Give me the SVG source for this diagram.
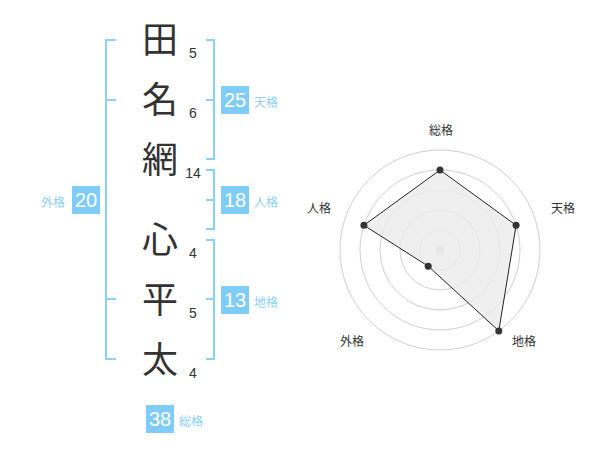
<svg xmlns="http://www.w3.org/2000/svg" width="600" height="470" viewBox="0 0 600 470">
<style>
.kanji{font-family:"Noto Sans CJK JP","Noto Sans CJK SC",sans-serif;font-size:36px;fill:#333;text-anchor:middle}
.stroke{font-family:"Liberation Sans",Arial,sans-serif;font-size:14px;fill:#333;text-anchor:middle}
.br{fill:none;stroke:#8ccff7;stroke-width:2}
.box{fill:#80ccf8}
.num{font-family:"Liberation Sans",Arial,sans-serif;font-size:20px;fill:#fff;text-anchor:middle}
.lbl{font-family:"Noto Sans CJK JP","Noto Sans CJK SC",sans-serif;font-size:12px;fill:#8ccff7}
.rl{font-family:"Noto Sans CJK JP","Noto Sans CJK SC",sans-serif;font-size:12px;fill:#333;text-anchor:middle}
.ring{fill:none;stroke:#d0d0d0;stroke-width:1}
.dot{fill:#333}
</style>
<rect width="600" height="470" fill="#fff"/>
<g id="name">
<text class="kanji" x="160" y="53">田</text>
<text class="kanji" x="160" y="113">名</text>
<text class="kanji" x="160" y="173">網</text>
<text class="kanji" x="160" y="253">心</text>
<text class="kanji" x="160" y="313">平</text>
<text class="kanji" x="160" y="373">太</text>
</g>
<g id="strokes">
<text class="stroke" x="193" y="58">5</text>
<text class="stroke" x="193" y="118">6</text>
<text class="stroke" x="193" y="178">14</text>
<text class="stroke" x="193" y="258">4</text>
<text class="stroke" x="193" y="318">5</text>
<text class="stroke" x="193" y="378">4</text>
</g>
<g id="connectors">
<path class="br" d="M116,40 H106 V359 H116 M106,100 H116 M106,299 H116"/>
<path class="br" d="M206,40 H214 V159 H206 M214,100 H206"/>
<path class="br" d="M206,170 H214 V229 H206 M214,200 H206"/>
<path class="br" d="M206,240 H214 V359 H206 M214,299 H206"/>
</g>
<g id="tenkaku">
<rect class="box" x="221" y="86" width="28" height="28"/>
<text class="num" x="235" y="107">25</text>
<text class="lbl" x="254" y="107">天格</text>
</g>
<g id="jinkaku">
<rect class="box" x="221" y="186" width="28" height="28"/>
<text class="num" x="235" y="207">18</text>
<text class="lbl" x="254" y="207">人格</text>
</g>
<g id="chikaku">
<rect class="box" x="221" y="286" width="28" height="28"/>
<text class="num" x="235" y="307">13</text>
<text class="lbl" x="254" y="307">地格</text>
</g>
<g id="gaikaku">
<rect class="box" x="72" y="186" width="28" height="28"/>
<text class="num" x="86" y="207">20</text>
<text class="lbl" x="41" y="207">外格</text>
</g>
<g id="soukaku">
<rect class="box" x="146" y="405" width="28" height="28"/>
<text class="num" x="160" y="426">38</text>
<text class="lbl" x="179" y="426">総格</text>
</g>
<g id="radar">
<circle class="ring" cx="440" cy="250" r="20"/>
<circle class="ring" cx="440" cy="250" r="40"/>
<circle class="ring" cx="440" cy="250" r="60"/>
<circle class="ring" cx="440" cy="250" r="80"/>
<circle class="ring" cx="440" cy="250" r="100"/>
<circle cx="440" cy="250" r="4" fill="#ccc"/>
<polygon points="440,170 516.1,225.3 498.8,330.9 428.2,266.2 363.9,225.3" fill="#ebebeb" fill-opacity="0.8" stroke="#222" stroke-width="1"/>
<circle class="dot" cx="440" cy="170" r="3.5"/>
<circle class="dot" cx="516.1" cy="225.3" r="3.5"/>
<circle class="dot" cx="498.8" cy="330.9" r="3.5"/>
<circle class="dot" cx="428.2" cy="266.2" r="3.5"/>
<circle class="dot" cx="363.9" cy="225.3" r="3.5"/>
<text class="rl" x="441" y="135">総格</text>
<text class="rl" x="563" y="213">天格</text>
<text class="rl" x="524" y="346">地格</text>
<text class="rl" x="352" y="346">外格</text>
<text class="rl" x="319" y="213">人格</text>
</g>
</svg>
